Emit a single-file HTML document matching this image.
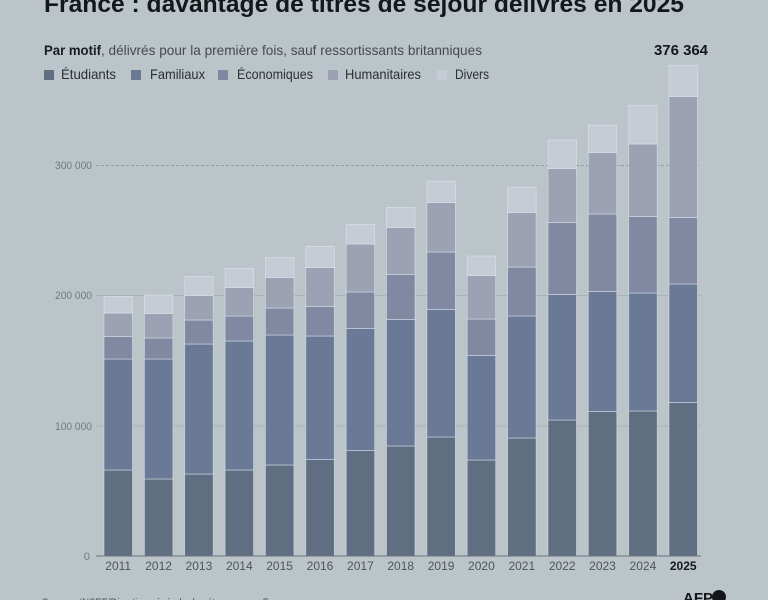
<!DOCTYPE html>
<html><head><meta charset="utf-8"><style>
html,body{margin:0;padding:0;background:#bac4c9;}
svg{display:block;}
text{font-family:"Liberation Sans",sans-serif;}
</style></head><body>
<svg width="768" height="600" viewBox="0 0 768 600" xmlns="http://www.w3.org/2000/svg">
<rect x="0" y="0" width="768" height="600" fill="#bac4c9"/>
<text x="44" y="12" font-size="24" font-weight="bold" fill="#15181b" textLength="640" lengthAdjust="spacingAndGlyphs">France : davantage de titres de séjour délivrés en 2025</text>
<text x="44" y="55" font-size="14" font-weight="bold" fill="#1a1d20" textLength="57" lengthAdjust="spacingAndGlyphs">Par motif</text>
<text x="101" y="55" font-size="14" fill="#454b51" textLength="381" lengthAdjust="spacingAndGlyphs">, délivrés pour la première fois, sauf ressortissants britanniques</text>
<rect x="44" y="70" width="10" height="10" fill="#5f6e80"/>
<text x="61" y="79" font-size="14" fill="#2b3035" textLength="55" lengthAdjust="spacingAndGlyphs">Étudiants</text>
<rect x="131" y="70" width="10" height="10" fill="#6a7a96"/>
<text x="150" y="79" font-size="14" fill="#2b3035" textLength="55" lengthAdjust="spacingAndGlyphs">Familiaux</text>
<rect x="218" y="70" width="10" height="10" fill="#8189a2"/>
<text x="237" y="79" font-size="14" fill="#2b3035" textLength="76" lengthAdjust="spacingAndGlyphs">Économiques</text>
<rect x="328" y="70" width="10" height="10" fill="#9ca2b4"/>
<text x="345" y="79" font-size="14" fill="#2b3035" textLength="76" lengthAdjust="spacingAndGlyphs">Humanitaires</text>
<rect x="437" y="70" width="10" height="10" fill="#c6cbd6"/>
<text x="455" y="79" font-size="14" fill="#2b3035" textLength="34" lengthAdjust="spacingAndGlyphs">Divers</text>
<text x="654" y="55" font-size="15" font-weight="bold" fill="#15181b" textLength="54" lengthAdjust="spacingAndGlyphs">376 364</text>
<line x1="96" y1="165.5" x2="701" y2="165.5" stroke="#959da2" stroke-width="1" stroke-dasharray="3,2"/>
<line x1="96" y1="295.5" x2="701" y2="295.5" stroke="#a9b2b7" stroke-width="1"/>
<line x1="96" y1="426" x2="701" y2="426" stroke="#a9b2b7" stroke-width="1"/>
<g font-size="11" fill="#737a80" text-anchor="end">
<text x="92" y="169" textLength="37" lengthAdjust="spacingAndGlyphs">300 000</text>
<text x="92" y="299" textLength="37" lengthAdjust="spacingAndGlyphs">200 000</text>
<text x="92" y="430" textLength="37" lengthAdjust="spacingAndGlyphs">100 000</text>
<text x="90" y="560">0</text>
</g>
<g stroke="rgba(228,233,240,0.6)" stroke-width="0.8">
<rect x="104" y="470" width="28.5" height="86" fill="#5f6e80"/>
<rect x="104" y="359" width="28.5" height="111" fill="#6a7a96"/>
<rect x="104" y="336.5" width="28.5" height="22.5" fill="#8189a2"/>
<rect x="104" y="313" width="28.5" height="23.5" fill="#9ca2b4"/>
<rect x="104" y="296.5" width="28.5" height="16.5" fill="#c6cbd6"/>
<rect x="144.4" y="479" width="28.5" height="77" fill="#5f6e80"/>
<rect x="144.4" y="359" width="28.5" height="120" fill="#6a7a96"/>
<rect x="144.4" y="338" width="28.5" height="21" fill="#8189a2"/>
<rect x="144.4" y="313.5" width="28.5" height="24.5" fill="#9ca2b4"/>
<rect x="144.4" y="295" width="28.5" height="18.5" fill="#c6cbd6"/>
<rect x="184.7" y="474" width="28.5" height="82" fill="#5f6e80"/>
<rect x="184.7" y="344" width="28.5" height="130" fill="#6a7a96"/>
<rect x="184.7" y="320" width="28.5" height="24" fill="#8189a2"/>
<rect x="184.7" y="295.5" width="28.5" height="24.5" fill="#9ca2b4"/>
<rect x="184.7" y="276.5" width="28.5" height="19" fill="#c6cbd6"/>
<rect x="225.1" y="470" width="28.5" height="86" fill="#5f6e80"/>
<rect x="225.1" y="341" width="28.5" height="129" fill="#6a7a96"/>
<rect x="225.1" y="316" width="28.5" height="25" fill="#8189a2"/>
<rect x="225.1" y="287.5" width="28.5" height="28.5" fill="#9ca2b4"/>
<rect x="225.1" y="268.5" width="28.5" height="19" fill="#c6cbd6"/>
<rect x="265.4" y="465" width="28.5" height="91" fill="#5f6e80"/>
<rect x="265.4" y="335" width="28.5" height="130" fill="#6a7a96"/>
<rect x="265.4" y="308" width="28.5" height="27" fill="#8189a2"/>
<rect x="265.4" y="277.5" width="28.5" height="30.5" fill="#9ca2b4"/>
<rect x="265.4" y="257.5" width="28.5" height="20" fill="#c6cbd6"/>
<rect x="305.8" y="459.5" width="28.5" height="96.5" fill="#5f6e80"/>
<rect x="305.8" y="336" width="28.5" height="123.5" fill="#6a7a96"/>
<rect x="305.8" y="306.5" width="28.5" height="29.5" fill="#8189a2"/>
<rect x="305.8" y="267.5" width="28.5" height="39" fill="#9ca2b4"/>
<rect x="305.8" y="246.5" width="28.5" height="21" fill="#c6cbd6"/>
<rect x="346.2" y="450.5" width="28.5" height="105.5" fill="#5f6e80"/>
<rect x="346.2" y="328.5" width="28.5" height="122" fill="#6a7a96"/>
<rect x="346.2" y="292" width="28.5" height="36.5" fill="#8189a2"/>
<rect x="346.2" y="244" width="28.5" height="48" fill="#9ca2b4"/>
<rect x="346.2" y="224.5" width="28.5" height="19.5" fill="#c6cbd6"/>
<rect x="386.5" y="446" width="28.5" height="110" fill="#5f6e80"/>
<rect x="386.5" y="319.5" width="28.5" height="126.5" fill="#6a7a96"/>
<rect x="386.5" y="274.5" width="28.5" height="45" fill="#8189a2"/>
<rect x="386.5" y="227.5" width="28.5" height="47" fill="#9ca2b4"/>
<rect x="386.5" y="207.5" width="28.5" height="20" fill="#c6cbd6"/>
<rect x="426.9" y="437" width="28.5" height="119" fill="#5f6e80"/>
<rect x="426.9" y="309.5" width="28.5" height="127.5" fill="#6a7a96"/>
<rect x="426.9" y="252" width="28.5" height="57.5" fill="#8189a2"/>
<rect x="426.9" y="202.5" width="28.5" height="49.5" fill="#9ca2b4"/>
<rect x="426.9" y="181" width="28.5" height="21.5" fill="#c6cbd6"/>
<rect x="467.2" y="460" width="28.5" height="96" fill="#5f6e80"/>
<rect x="467.2" y="355.5" width="28.5" height="104.5" fill="#6a7a96"/>
<rect x="467.2" y="319" width="28.5" height="36.5" fill="#8189a2"/>
<rect x="467.2" y="275.5" width="28.5" height="43.5" fill="#9ca2b4"/>
<rect x="467.2" y="256" width="28.5" height="19.5" fill="#c6cbd6"/>
<rect x="507.6" y="438" width="28.5" height="118" fill="#5f6e80"/>
<rect x="507.6" y="316" width="28.5" height="122" fill="#6a7a96"/>
<rect x="507.6" y="267" width="28.5" height="49" fill="#8189a2"/>
<rect x="507.6" y="212.5" width="28.5" height="54.5" fill="#9ca2b4"/>
<rect x="507.6" y="187" width="28.5" height="25.5" fill="#c6cbd6"/>
<rect x="548" y="420" width="28.5" height="136" fill="#5f6e80"/>
<rect x="548" y="294.5" width="28.5" height="125.5" fill="#6a7a96"/>
<rect x="548" y="222.5" width="28.5" height="72" fill="#8189a2"/>
<rect x="548" y="168.5" width="28.5" height="54" fill="#9ca2b4"/>
<rect x="548" y="140" width="28.5" height="28.5" fill="#c6cbd6"/>
<rect x="588.3" y="411.5" width="28.5" height="144.5" fill="#5f6e80"/>
<rect x="588.3" y="291.5" width="28.5" height="120" fill="#6a7a96"/>
<rect x="588.3" y="214" width="28.5" height="77.5" fill="#8189a2"/>
<rect x="588.3" y="152.5" width="28.5" height="61.5" fill="#9ca2b4"/>
<rect x="588.3" y="125" width="28.5" height="27.5" fill="#c6cbd6"/>
<rect x="628.7" y="411" width="28.5" height="145" fill="#5f6e80"/>
<rect x="628.7" y="293" width="28.5" height="118" fill="#6a7a96"/>
<rect x="628.7" y="216.5" width="28.5" height="76.5" fill="#8189a2"/>
<rect x="628.7" y="144" width="28.5" height="72.5" fill="#9ca2b4"/>
<rect x="628.7" y="105.5" width="28.5" height="38.5" fill="#c6cbd6"/>
<rect x="669" y="402.5" width="28.5" height="153.5" fill="#5f6e80"/>
<rect x="669" y="284" width="28.5" height="118.5" fill="#6a7a96"/>
<rect x="669" y="217.5" width="28.5" height="66.5" fill="#8189a2"/>
<rect x="669" y="96.5" width="28.5" height="121" fill="#9ca2b4"/>
<rect x="669" y="65.5" width="28.5" height="31" fill="#c6cbd6"/>
</g>
<line x1="96" y1="556" x2="701" y2="556" stroke="#6e757b" stroke-width="1"/>
<g font-size="12" fill="#4f555b" text-anchor="middle">
<text x="118.2" y="570">2011</text>
<text x="158.6" y="570">2012</text>
<text x="198.9" y="570">2013</text>
<text x="239.3" y="570">2014</text>
<text x="279.6" y="570">2015</text>
<text x="320" y="570">2016</text>
<text x="360.4" y="570">2017</text>
<text x="400.7" y="570">2018</text>
<text x="441.1" y="570">2019</text>
<text x="481.4" y="570">2020</text>
<text x="521.8" y="570">2021</text>
<text x="562.2" y="570">2022</text>
<text x="602.5" y="570">2023</text>
<text x="642.9" y="570">2024</text>
<text x="683.2" y="570" font-weight="bold" fill="#15181b">2025</text>
</g>
<text x="42" y="606" font-size="11" fill="#50565c" textLength="250" lengthAdjust="spacingAndGlyphs">Source : INSEE/Direction générale des étrangers en France</text>
<text x="683" y="603" font-size="15" font-weight="bold" fill="#15181b">AFP</text>
<circle cx="719" cy="597" r="7" fill="#15181b"/>
</svg>
</body></html>
